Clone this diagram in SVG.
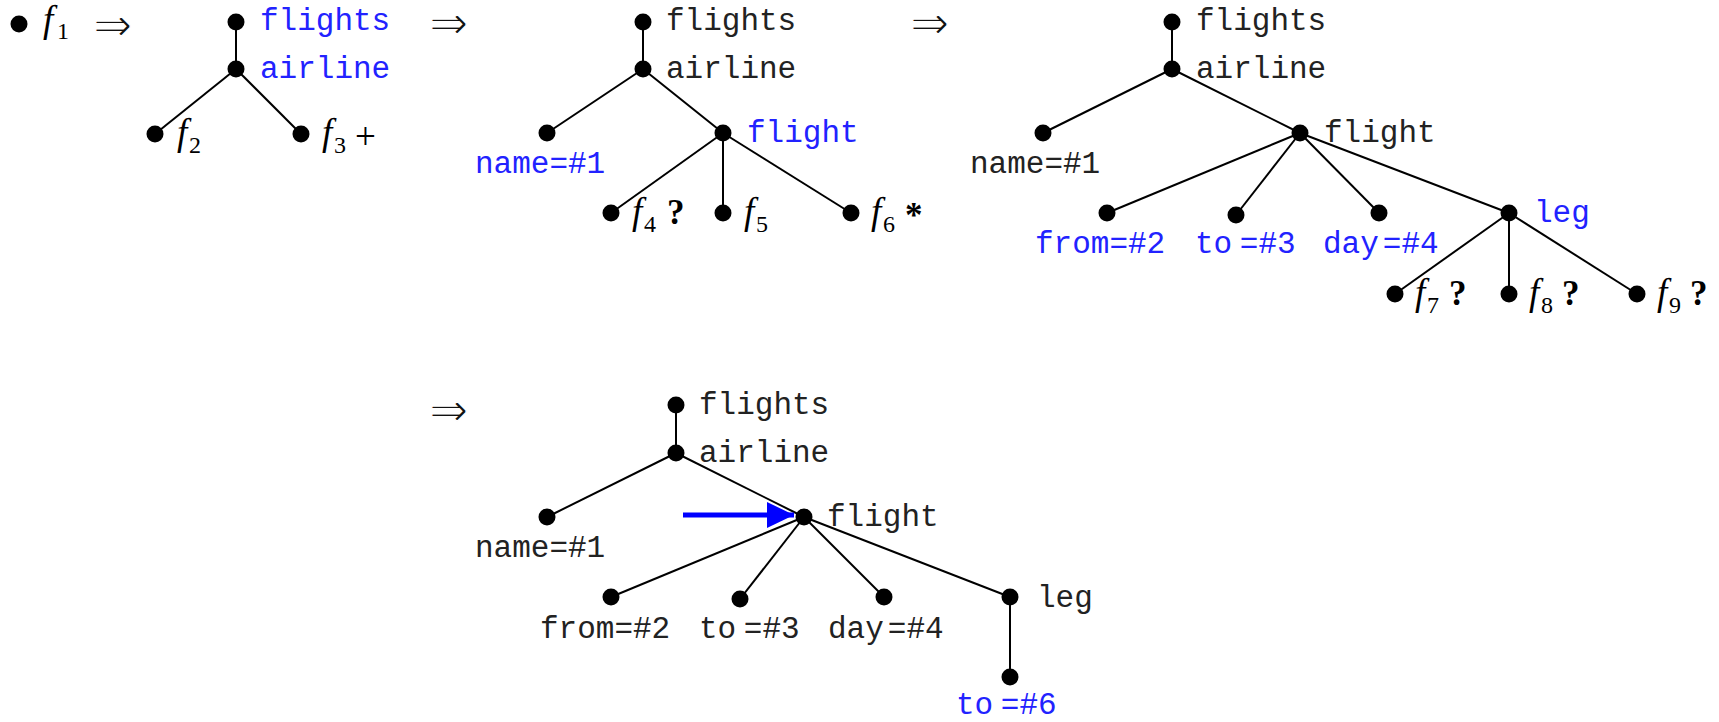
<svg xmlns="http://www.w3.org/2000/svg" width="1719" height="722" viewBox="0 0 1719 722">
<style>
.e{stroke:#000;stroke-width:2;fill:none}
.d{fill:#000}
.t{font-family:"Liberation Mono",monospace;font-size:31px;fill:#222}
.b{fill:#2222ff}
.fi{font-family:"Liberation Serif",serif;font-style:italic;font-size:37px}
.sub{font-family:"Liberation Serif",serif;font-size:24px}
.q{font-family:"Liberation Serif",serif;font-weight:bold;font-size:35px}
.pl{font-family:"Liberation Serif",serif;font-size:37px}
.imp{font-family:"DejaVu Sans",sans-serif;font-size:47px;fill:#111;stroke:#fff;stroke-width:1.4}
</style>
<defs>
<marker id="ah" markerUnits="userSpaceOnUse" markerWidth="28" markerHeight="26" refX="27" refY="13" orient="auto">
<polygon points="0,0 27,13 0,26" fill="#0000ff"/>
</marker>
</defs>
<rect width="1719" height="722" fill="#fff"/>

<g id="implies">
<text class="imp" x="93" y="41">⇒</text>
<text class="imp" x="429" y="39">⇒</text>
<text class="imp" x="910" y="39">⇒</text>
<text class="imp" x="429" y="426">⇒</text>
</g>

<g id="connectors">
<!-- tree 1 -->
<line class="e" x1="236" y1="22" x2="236" y2="69"/>
<line class="e" x1="236" y1="69" x2="155" y2="134"/>
<line class="e" x1="236" y1="69" x2="301" y2="134"/>
<!-- tree 2 -->
<line class="e" x1="643" y1="22" x2="643" y2="69"/>
<line class="e" x1="643" y1="69" x2="547" y2="133"/>
<line class="e" x1="643" y1="69" x2="723" y2="133"/>
<line class="e" x1="723" y1="133" x2="611" y2="213"/>
<line class="e" x1="723" y1="133" x2="723" y2="213"/>
<line class="e" x1="723" y1="133" x2="851" y2="213"/>
<!-- tree 3 -->
<line class="e" x1="1172" y1="22" x2="1172" y2="69"/>
<line class="e" x1="1172" y1="69" x2="1043" y2="133"/>
<line class="e" x1="1172" y1="69" x2="1300" y2="133"/>
<line class="e" x1="1300" y1="133" x2="1107" y2="213"/>
<line class="e" x1="1300" y1="133" x2="1236" y2="215"/>
<line class="e" x1="1300" y1="133" x2="1379" y2="213"/>
<line class="e" x1="1300" y1="133" x2="1509" y2="213"/>
<line class="e" x1="1509" y1="213" x2="1395" y2="294"/>
<line class="e" x1="1509" y1="213" x2="1509" y2="294"/>
<line class="e" x1="1509" y1="213" x2="1637" y2="294"/>
<!-- tree 4 -->
<line class="e" x1="676" y1="405" x2="676" y2="453"/>
<line class="e" x1="676" y1="453" x2="547" y2="517"/>
<line class="e" x1="676" y1="453" x2="804" y2="517"/>
<line class="e" x1="804" y1="517" x2="611" y2="597"/>
<line class="e" x1="804" y1="517" x2="740" y2="599"/>
<line class="e" x1="804" y1="517" x2="884" y2="597"/>
<line class="e" x1="804" y1="517" x2="1010" y2="597"/>
<line class="e" x1="1010" y1="597" x2="1010" y2="677"/>
<!-- blue arrow -->
<line x1="683" y1="515" x2="794" y2="515" stroke="#0000ff" stroke-width="5" marker-end="url(#ah)"/>
</g>

<g id="f1">
<circle class="d" cx="19" cy="24" r="8.5"/>
<text><tspan class="fi" x="43" y="32">f</tspan><tspan class="sub" x="57" y="39">1</tspan></text>
</g>

<g id="t1-flights"><circle class="d" cx="236" cy="22" r="8.5"/><text class="t b" x="260" y="30">flights</text></g>
<g id="t1-airline"><circle class="d" cx="236" cy="69" r="8.5"/><text class="t b" x="260" y="78">airline</text></g>
<g id="t1-f2"><circle class="d" cx="155" cy="134" r="8.5"/><text><tspan class="fi" x="177" y="145">f</tspan><tspan class="sub" x="189" y="153">2</tspan></text></g>
<g id="t1-f3"><circle class="d" cx="301" cy="134" r="8.5"/><text><tspan class="fi" x="322" y="145">f</tspan><tspan class="sub" x="334" y="153">3</tspan><tspan class="pl" x="355" y="149">+</tspan></text></g>

<g id="t2-flights"><circle class="d" cx="643" cy="22" r="8.5"/><text class="t" x="666" y="30">flights</text></g>
<g id="t2-airline"><circle class="d" cx="643" cy="69" r="8.5"/><text class="t" x="666" y="78">airline</text></g>
<g id="t2-name"><circle class="d" cx="547" cy="133" r="8.5"/><text class="t b" x="475" y="173">name=#1</text></g>
<g id="t2-flight"><circle class="d" cx="723" cy="133" r="8.5"/><text class="t b" x="747" y="142">flight</text></g>
<g id="t2-f4"><circle class="d" cx="611" cy="213" r="8.5"/><text><tspan class="fi" x="632" y="224">f</tspan><tspan class="sub" x="644" y="232">4</tspan><tspan class="q" x="667" y="224">?</tspan></text></g>
<g id="t2-f5"><circle class="d" cx="723" cy="213" r="8.5"/><text><tspan class="fi" x="744" y="224">f</tspan><tspan class="sub" x="756" y="232">5</tspan></text></g>
<g id="t2-f6"><circle class="d" cx="851" cy="213" r="8.5"/><text><tspan class="fi" x="871" y="224">f</tspan><tspan class="sub" x="883" y="232">6</tspan><tspan class="q" x="905" y="227">*</tspan></text></g>

<g id="t3-flights"><circle class="d" cx="1172" cy="22" r="8.5"/><text class="t" x="1196" y="30">flights</text></g>
<g id="t3-airline"><circle class="d" cx="1172" cy="69" r="8.5"/><text class="t" x="1196" y="78">airline</text></g>
<g id="t3-name"><circle class="d" cx="1043" cy="133" r="8.5"/><text class="t" x="970" y="173">name=#1</text></g>
<g id="t3-flight"><circle class="d" cx="1300" cy="133" r="8.5"/><text class="t" x="1324" y="142">flight</text></g>
<g id="t3-from"><circle class="d" cx="1107" cy="213" r="8.5"/><text class="t b" x="1035" y="253">from=#2</text></g>
<g id="t3-to"><circle class="d" cx="1236" cy="215" r="8.5"/><text class="t b" x="1195" y="253">to <tspan dx="-11">=#3</tspan></text></g>
<g id="t3-day"><circle class="d" cx="1379" cy="213" r="8.5"/><text class="t b" x="1323" y="253">day<tspan dx="4">=#4</tspan></text></g>
<g id="t3-leg"><circle class="d" cx="1509" cy="213" r="8.5"/><text class="t b" x="1534" y="222">leg</text></g>
<g id="t3-f7"><circle class="d" cx="1395" cy="294" r="8.5"/><text><tspan class="fi" x="1415" y="305">f</tspan><tspan class="sub" x="1427" y="313">7</tspan><tspan class="q" x="1449" y="305">?</tspan></text></g>
<g id="t3-f8"><circle class="d" cx="1509" cy="294" r="8.5"/><text><tspan class="fi" x="1529" y="305">f</tspan><tspan class="sub" x="1541" y="313">8</tspan><tspan class="q" x="1562" y="305">?</tspan></text></g>
<g id="t3-f9"><circle class="d" cx="1637" cy="294" r="8.5"/><text><tspan class="fi" x="1657" y="305">f</tspan><tspan class="sub" x="1669" y="313">9</tspan><tspan class="q" x="1690" y="305">?</tspan></text></g>

<g id="t4-flights"><circle class="d" cx="676" cy="405" r="8.5"/><text class="t" x="699" y="414">flights</text></g>
<g id="t4-airline"><circle class="d" cx="676" cy="453" r="8.5"/><text class="t" x="699" y="462">airline</text></g>
<g id="t4-name"><circle class="d" cx="547" cy="517" r="8.5"/><text class="t" x="475" y="557">name=#1</text></g>
<g id="t4-flight"><circle class="d" cx="804" cy="517" r="8.5"/><text class="t" x="827" y="526">flight</text></g>
<g id="t4-from"><circle class="d" cx="611" cy="597" r="8.5"/><text class="t" x="540" y="638">from=#2</text></g>
<g id="t4-to"><circle class="d" cx="740" cy="599" r="8.5"/><text class="t" x="699" y="638">to <tspan dx="-11">=#3</tspan></text></g>
<g id="t4-day"><circle class="d" cx="884" cy="597" r="8.5"/><text class="t" x="828" y="638">day<tspan dx="4">=#4</tspan></text></g>
<g id="t4-leg"><circle class="d" cx="1010" cy="597" r="8.5"/><text class="t" x="1037" y="607">leg</text></g>
<g id="t4-to6"><circle class="d" cx="1010" cy="677" r="8.5"/><text class="t b" x="956" y="714">to <tspan dx="-11">=#6</tspan></text></g>
</svg>
